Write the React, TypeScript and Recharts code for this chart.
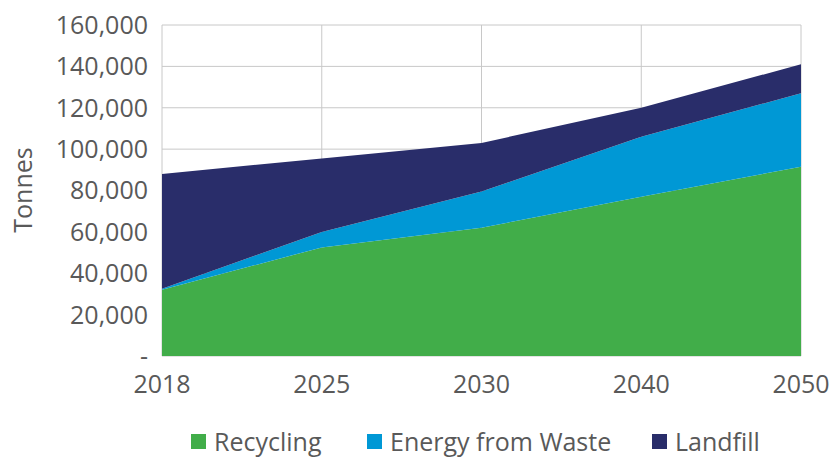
import { AreaChart, Area, XAxis, YAxis, CartesianGrid } from 'recharts'

const years = ['2018', '2025', '2030', '2040', '2050']
const recycling = [32000, 52500, 62000, 77000, 91500]
const energyFromWaste = [500, 7500, 17500, 29000, 35500]
const landfill = [55500, 35500, 23500, 14000, 14000]
const yTicks = [0, 20000, 40000, 60000, 80000, 100000, 120000, 140000, 160000]

const series = [
  { key: 'recycling', name: 'Recycling', color: '#41AD49' },
  { key: 'energy', name: 'Energy from Waste', color: '#0098D5' },
  { key: 'landfill', name: 'Landfill', color: '#292D6A' },
]

// left edge of each legend swatch
const legendLeft = [191, 367, 652]

const FONT = '"Open Sans", sans-serif'
const TEXT = '#595959'

const data = years.map((year, i) => ({
  year,
  recycling: recycling[i],
  energy: energyFromWaste[i],
  landfill: landfill[i],
}))

const formatTick = (v: number) => (v === 0 ? '-' : v.toLocaleString('en-US'))

const YLabel = () => (
  <text
    x={22}
    y={190}
    transform="rotate(-90 22 190)"
    textAnchor="middle"
    dominantBaseline="central"
    fill={TEXT}
    fontSize={25}
    fontFamily={FONT}
  >
    Tonnes
  </text>
)

export default function App() {
  const tickStyle = { fill: TEXT, fontSize: 25, fontFamily: FONT }
  return (
    <div style={{ position: 'absolute', left: 0, top: 0, width: 833, height: 457, background: '#fff' }}>
      <AreaChart width={833} height={457} data={data} margin={{ top: 25, right: 32, left: 0, bottom: 0 }}>
        <CartesianGrid stroke="#c8c8c8" strokeWidth={1} />
        <XAxis
          dataKey="year"
          height={101}
          axisLine={false}
          tickLine={false}
          tickMargin={13}
          tick={tickStyle}
          interval={0}
        />
        <YAxis
          width={162}
          domain={[0, 160000]}
          ticks={yTicks}
          axisLine={false}
          tickLine={false}
          tickMargin={8}
          tick={tickStyle}
          tickFormatter={formatTick}
          interval={0}
          label={<YLabel />}
        />
        {series.map((s) => (
          <Area
            key={s.key}
            type="linear"
            dataKey={s.key}
            name={s.name}
            stackId="1"
            stroke="none"
            fill={s.color}
            fillOpacity={1}
            isAnimationActive={false}
          />
        ))}
      </AreaChart>
      {series.map((s, i) => (
        <div
          key={s.key}
          style={{
            position: 'absolute',
            left: legendLeft[i],
            top: 424,
            height: 34,
            display: 'flex',
            alignItems: 'center',
            gap: 8,
            fontFamily: FONT,
            fontSize: 25,
            lineHeight: '34px',
            color: TEXT,
            whiteSpace: 'nowrap',
          }}
        >
          <span style={{ display: 'inline-block', width: 15, height: 15, background: s.color }} />
          <span>{s.name}</span>
        </div>
      ))}
    </div>
  )
}
